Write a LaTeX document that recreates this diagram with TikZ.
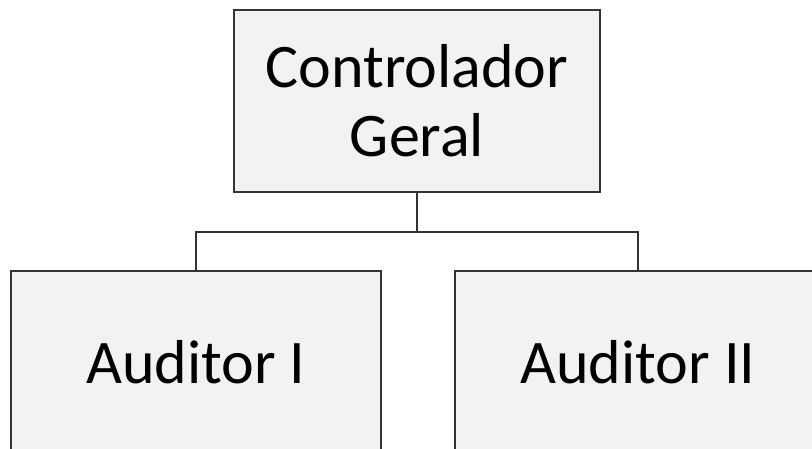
\documentclass[tikz,border=0pt]{standalone}
\usepackage{fontspec}
\setmainfont{Carlito}
\usetikzlibrary{positioning}

\begin{document}
\begin{tikzpicture}[
x=1pt, y=-1pt,
every node/.style={draw=black!80, line width=1.3pt, fill=gray!10, align=center, font=\fontsize{62}{69}\selectfont, inner sep=0pt},
box/.style={minimum width=366pt, minimum height=182pt},
link/.style={draw=black!80, line width=1.3pt}
]
\useasboundingbox (0,0) rectangle (812,448);
\clip (0,0) rectangle (812,448);

% ====== Boxes ======
\node[box] (geral) at (417,101) {Controlador\\Geral};
\node[box, minimum width=370pt] (audA) at (196,362) {Auditor I};
\node[box] (audB) at (638,362) {Auditor II};

% ====== Connections ======
\coordinate (split) at (417,232);
\draw[link] (geral.south) -- (split);
\draw[link] (split) -| (audA.north);
\draw[link] (split) -| (audB.north);

\end{tikzpicture}
\end{document}
